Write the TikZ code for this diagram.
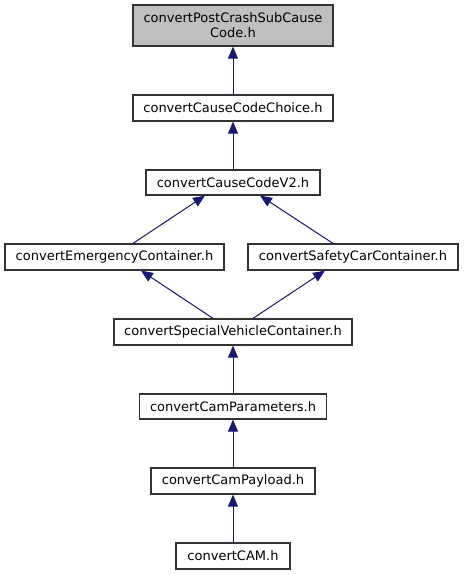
\documentclass[tikz,border=0pt]{standalone}
\usepackage{fontspec}
\setmainfont{DejaVu Sans}
\usepackage{xcolor}
\usetikzlibrary{arrows.meta}

\definecolor{edgeblue}{RGB}{25,25,112}
\definecolor{curgray}{RGB}{191,191,191}

\begin{document}
\begin{tikzpicture}[
    x=1pt, y=-1pt,
    box/.style={rectangle, draw=black!80, line width=1.2pt, fill=white, inner sep=0pt, align=center, font=\fontsize{13}{15}\selectfont},
    curbox/.style={box, fill=curgray},
    arrow/.style={{Triangle[length=12pt,width=10pt]}-, line width=1pt, draw=edgeblue, fill=edgeblue}
]
\useasboundingbox (0,0) rectangle (463,575);

% Header in question
\node[curbox, minimum width=200pt, minimum height=41pt] (postcrash) at (233,25.5) {convertPostCrashSubCause\\Code.h};

% Files including it
\node[box, minimum width=200pt, minimum height=26pt] (choice) at (233,108) {convertCauseCodeChoice.h};
\node[box, minimum width=174pt, minimum height=25pt] (causev2) at (233,182.5) {convertCauseCodeV2.h};
\node[box, minimum width=219pt, minimum height=26pt] (emergency) at (114.5,257) {convertEmergencyContainer.h};
\node[box, minimum width=210pt, minimum height=26pt] (safetycar) at (353,257) {convertSafetyCarContainer.h};
\node[box, minimum width=238pt, minimum height=26pt] (specialveh) at (233,332) {convertSpecialVehicleContainer.h};
\node[box, minimum width=187pt, minimum height=25pt] (camparams) at (233,406.5) {convertCamParameters.h};
\node[box, minimum width=164pt, minimum height=26pt] (campayload) at (233,481) {convertCamPayload.h};
\node[box, minimum width=114pt, minimum height=26pt] (cam) at (233,556) {convertCAM.h};

% Include edges
\draw[arrow] (postcrash) -- (choice);
\draw[arrow] (choice) -- (causev2);
\draw[arrow] ([xshift=-28pt]causev2.south) -- ([xshift=18.5pt]emergency.north);
\draw[arrow] ([xshift=27pt]causev2.south) -- ([xshift=-20pt]safetycar.north);
\draw[arrow] ([xshift=26.5pt]emergency.south) -- ([xshift=-20pt]specialveh.north);
\draw[arrow] ([xshift=-28pt]safetycar.south) -- ([xshift=20pt]specialveh.north);
\draw[arrow] (specialveh) -- (camparams);
\draw[arrow] (camparams) -- (campayload);
\draw[arrow] (campayload) -- (cam);

\end{tikzpicture}
\end{document}
